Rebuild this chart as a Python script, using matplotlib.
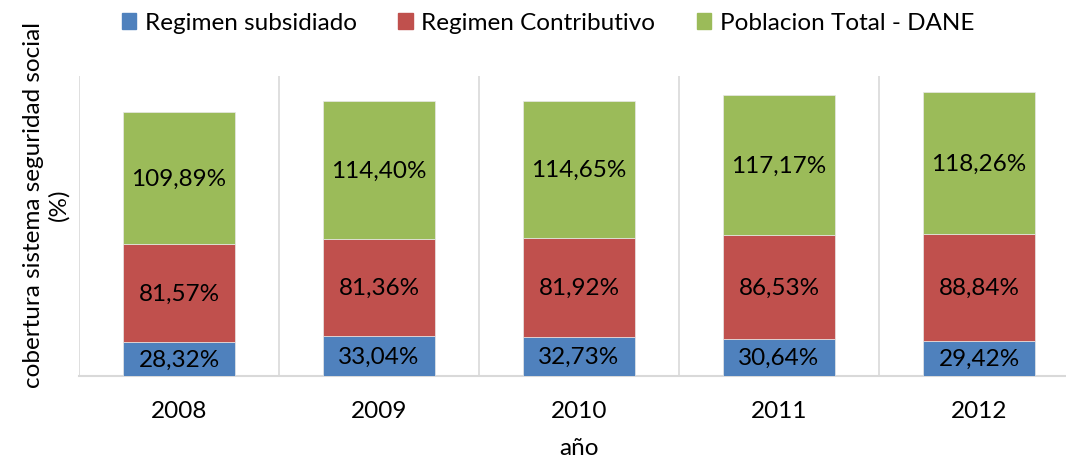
import numpy as np
import matplotlib.pyplot as plt
import matplotlib.patches as mpatches

plt.rcParams['font.family'] = ['Lato', 'DejaVu Sans']

years = ['2008', '2009', '2010', '2011', '2012']
subsidiado = [28.32, 33.04, 32.73, 30.64, 29.42]
contributivo = [81.57, 81.36, 81.92, 86.53, 88.84]
poblacion = [109.89, 114.40, 114.65, 117.17, 118.26]
series_names = ['Regimen subsidiado', 'Regimen Contributivo', 'Poblacion Total - DANE']
colors = ['#4f81bd', '#c0504d', '#9bbb59']

FS = 17.5
W, H = 1066, 460
fig = plt.figure(figsize=(W / 100, H / 100), dpi=100)
ax = fig.add_axes([79 / W, (H - 377) / H, 1000 / W, 300 / H])

x = np.arange(len(years))
bottom = np.zeros(len(years))
for vals, c in zip([subsidiado, contributivo, poblacion], colors):
    vals = np.array(vals)
    ax.bar(x, vals, width=0.56, bottom=bottom, color=c, edgecolor='#e8e8e8',
           linewidth=0.5, zorder=3)
    for xi, b, v in zip(x, bottom, vals):
        ax.text(xi, b + v / 2, f'{v:.2f}%'.replace('.', ','), ha='center',
                va='center', fontsize=FS, color='black', zorder=4)
    bottom += vals

ax.set_xlim(-0.5, len(years) - 0.5)
ax.set_ylim(0, 250)
ax.set_xticks(x)
ax.set_xticklabels(years, fontsize=FS)
ax.set_xticks(np.arange(len(years) + 1) - 0.5, minor=True)
ax.tick_params(axis='x', which='both', length=0, pad=17)
ax.grid(True, axis='x', which='minor', color='#d9d9d9', linewidth=1.2, zorder=0)
ax.set_yticks([])
for s in ['top', 'right', 'left']:
    ax.spines[s].set_visible(False)
ax.spines['bottom'].set_color('#d9d9d9')
ax.spines['bottom'].set_linewidth(1.5)

ax.set_xlabel('año', fontsize=FS, labelpad=12)
fig.text(46 / W, 1 - 205 / H, 'cobertura sistema seguridad social\n(%)', rotation=90,
         ha='center', va='center', fontsize=FS, linespacing=1.2)

handles = [mpatches.Patch(color=c, label=n) for c, n in zip(colors, series_names)]
fig.legend(handles=handles, loc='center', bbox_to_anchor=(548 / W, 1 - 24 / H),
           ncol=3, frameon=False, fontsize=FS, handlelength=0.6,
           handleheight=0.6, handletextpad=0.35, columnspacing=1.7)

fig.savefig('out.png', dpi=100)
